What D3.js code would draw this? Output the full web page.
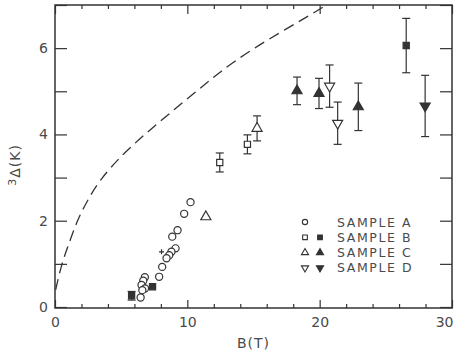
<!DOCTYPE html>
<html>
<head>
<meta charset="utf-8">
<script src="https://cdn.jsdelivr.net/npm/d3@7"></script>
<style>
  body { margin: 0; background: #fff; }
  svg text { font-family: "DejaVu Sans", sans-serif; fill: #4a4a4a; }
</style>
</head>
<body>
<div id="chart"></div>
<script>
// Sample A (open circles)
const aB = [10.24, 9.76, 9.26, 8.86, 9.11, 8.8, 8.63, 8.43, 8.1, 7.87, 6.79, 6.67, 6.54, 6.8, 6.6, 6.47];
const aD = [2.43, 2.16, 1.78, 1.63, 1.36, 1.28, 1.2, 1.13, 0.93, 0.70, 0.69, 0.61, 0.51, 0.43, 0.39, 0.22];
// Sample B open / filled squares
const bOpenB = [12.45, 14.54];
const bOpenD = [3.35, 3.77];
const bOpenErr = [0.22, 0.22];
const bFillB = [5.79, 7.37, 26.54];
const bFillD = [0.26, 0.47, 6.06];
const bFillErr = [0.1, 0, 0.63];
// Sample C triangles
const cOpenB = [11.4, 15.27];
const cOpenD = [2.09, 4.14];
const cOpenErr = [0, 0.29];
const cFillB = [18.29, 19.95, 22.92];
const cFillD = [5.01, 4.95, 4.64];
const cFillErr = [0.32, 0.35, 0.55];
// Sample D inverted triangles
const dOpenB = [20.75, 21.36];
const dOpenD = [5.12, 4.26];
const dOpenErr = [0.49, 0.49];
const dFillB = [27.97];
const dFillD = [4.66];
const dFillErr = [0.71];
// small cross
const crossB = [8.05];
const crossD = [1.28];
// dashed theory curve
const curveB = [0.05, 0.5, 1, 1.66, 2.5, 3.4, 5.1, 7.9, 10.9, 12.45, 14.9, 17.5, 20, 20.4];
const curveD = [0.4, 1.0, 1.42, 2.0, 2.5, 2.95, 3.55, 4.3, 5.05, 5.45, 5.98, 6.45, 6.9, 6.98];

const legendLabels = ['SAMPLE A', 'SAMPLE B', 'SAMPLE C', 'SAMPLE D'];
const xMajor = [0, 10, 20, 30];
const xMinor = [2, 4, 6, 8, 12, 14, 16, 18, 22, 24, 26, 28];
const yLabelled = [0, 2, 4, 6];
const yAll = [0, 1, 2, 3, 4, 5, 6, 7];

const width = 454, height = 354;
const ink = '#333';
const svg = d3.select('#chart').append('svg')
  .attr('width', width).attr('height', height);

const x = d3.scaleLinear().domain([0, 30]).range([55, 452]);
const y = d3.scaleLinear().domain([0, 7]).range([307, 5]);

function styleAxis(g) {
  g.select('.domain').remove();
  g.selectAll('line').attr('stroke', ink).attr('stroke-width', 1.2);
  g.selectAll('text').style('font-size', '14px').attr('fill', '#4a4a4a');
}

// ticks
svg.append('g').attr('transform', 'translate(0,308)')
  .call(d3.axisBottom(x).tickValues(xMajor).tickSize(-8).tickPadding(9).tickFormat(d3.format('d')))
  .call(styleAxis)
  .call(g => g.selectAll('text').filter(d => d === 30).attr('text-anchor', 'end').attr('dx', 1));
svg.append('g').attr('transform', 'translate(0,308)')
  .call(d3.axisBottom(x).tickValues(xMinor).tickSize(-4).tickFormat(''))
  .call(styleAxis);
svg.append('g').attr('transform', 'translate(0,5)')
  .call(d3.axisTop(x).tickValues(xMajor).tickSize(-9).tickFormat(''))
  .call(styleAxis);
svg.append('g').attr('transform', 'translate(0,5)')
  .call(d3.axisTop(x).tickValues(xMinor).tickSize(-4).tickFormat(''))
  .call(styleAxis);
svg.append('g').attr('transform', 'translate(55,0)')
  .call(d3.axisLeft(y).tickValues(yAll).tickSize(-12).tickFormat(''))
  .call(styleAxis);
svg.append('g').attr('transform', 'translate(55,0)')
  .call(d3.axisLeft(y).tickValues(yLabelled).tickSize(0).tickPadding(7).tickFormat(d3.format('d')))
  .call(styleAxis);
svg.append('g').attr('transform', 'translate(452,0)')
  .call(d3.axisRight(y).tickValues(yAll).tickSize(-12).tickFormat(''))
  .call(styleAxis);

// frame
svg.append('rect')
  .attr('x', x(0)).attr('y', y(7))
  .attr('width', x(30) - x(0)).attr('height', 308 - y(7))
  .attr('fill', 'none').attr('stroke', ink).attr('stroke-width', 1.5);

// axis titles
svg.append('text')
  .attr('x', (x(0) + x(30)) / 2).attr('y', 348)
  .attr('text-anchor', 'middle')
  .style('font-size', '14px').style('letter-spacing', '1px')
  .text('B(T)');
const yt = svg.append('text')
  .attr('transform', 'translate(20,165) rotate(-90)')
  .attr('text-anchor', 'middle')
  .style('font-size', '14px').style('letter-spacing', '1px');
yt.append('tspan').attr('baseline-shift', '35%').style('font-size', '11px').text('3');
yt.append('tspan').text('Δ(K)');

// dashed curve
const curve = curveB.map((b, i) => [b, curveD[i]]);
svg.append('path')
  .datum(curve)
  .attr('d', d3.line().x(d => x(d[0])).y(d => y(d[1])).curve(d3.curveBasis))
  .attr('fill', 'none').attr('stroke', ink).attr('stroke-width', 1.3)
  .attr('stroke-dasharray', '11,6');

// symbol shapes
const sym = {
  circle: d3.symbol().type(d3.symbolCircle).size(40),
  square: d3.symbol().type(d3.symbolSquare).size(38),
  triangle: d3.symbol().type(d3.symbolTriangle).size(44)
};

function drawSeries(bs, ds, errs, shape, filled, flip) {
  const data = bs.map((b, i) => ({ b: b, d: ds[i], e: errs ? errs[i] : 0 }));
  const g = svg.append('g');
  data.filter(p => p.e > 0).forEach(p => {
    const y1 = y(p.d + p.e), y2 = y(p.d - p.e), cx = x(p.b);
    g.append('line').attr('x1', cx).attr('x2', cx).attr('y1', y1).attr('y2', y2)
      .attr('stroke', ink).attr('stroke-width', 1.2);
    [y1, y2].forEach(yy => g.append('line')
      .attr('x1', cx - 4).attr('x2', cx + 4).attr('y1', yy).attr('y2', yy)
      .attr('stroke', ink).attr('stroke-width', 1.2));
  });
  g.selectAll('path').data(data).enter().append('path')
    .attr('d', sym[shape])
    .attr('transform', p => `translate(${x(p.b)},${y(p.d)})${flip ? ' rotate(180)' : ''}`)
    .attr('fill', filled ? ink : '#fff')
    .attr('stroke', ink).attr('stroke-width', 1.2);
}

drawSeries(aB, aD, null, 'circle', false, false);
drawSeries(bOpenB, bOpenD, bOpenErr, 'square', false, false);
drawSeries(bFillB, bFillD, bFillErr, 'square', true, false);
drawSeries(cOpenB, cOpenD, cOpenErr, 'triangle', false, false);
drawSeries(cFillB, cFillD, cFillErr, 'triangle', true, false);
drawSeries(dOpenB, dOpenD, dOpenErr, 'triangle', false, true);
drawSeries(dFillB, dFillD, dFillErr, 'triangle', true, true);

// small cross
svg.selectAll('.cross').data(crossB).enter().append('path')
  .attr('class', 'cross')
  .attr('d', (b, i) => `M${x(b) - 2.5},${y(crossD[i])}h5M${x(b)},${y(crossD[i]) - 2.5}v5`)
  .attr('stroke', ink).attr('stroke-width', 1.2);

// legend
const legend = [
  { label: legendLabels[0], shape: 'circle', fill: false, flip: false },
  { label: legendLabels[1], shape: 'square', fill: true, flip: false },
  { label: legendLabels[2], shape: 'triangle', fill: true, flip: false },
  { label: legendLabels[3], shape: 'triangle', fill: true, flip: true }
];
const lg = svg.append('g');
legend.forEach((l, i) => {
  const ly = 222 + i * 15.3;
  const small = d3.symbol().type(l.shape === 'circle' ? d3.symbolCircle : l.shape === 'square' ? d3.symbolSquare : d3.symbolTriangle).size(22);
  lg.append('path').attr('d', small)
    .attr('transform', `translate(305,${ly})${l.flip ? ' rotate(180)' : ''}`)
    .attr('fill', '#fff').attr('stroke', ink).attr('stroke-width', 1.1);
  if (l.fill) {
    lg.append('path').attr('d', small)
      .attr('transform', `translate(320,${ly})${l.flip ? ' rotate(180)' : ''}`)
      .attr('fill', ink).attr('stroke', ink).attr('stroke-width', 1.1);
  }
  lg.append('text').attr('x', 337).attr('y', ly + 4.5)
    .style('font-size', '12.5px').style('letter-spacing', '1.6px')
    .text(l.label);
});
</script>
</body>
</html>
